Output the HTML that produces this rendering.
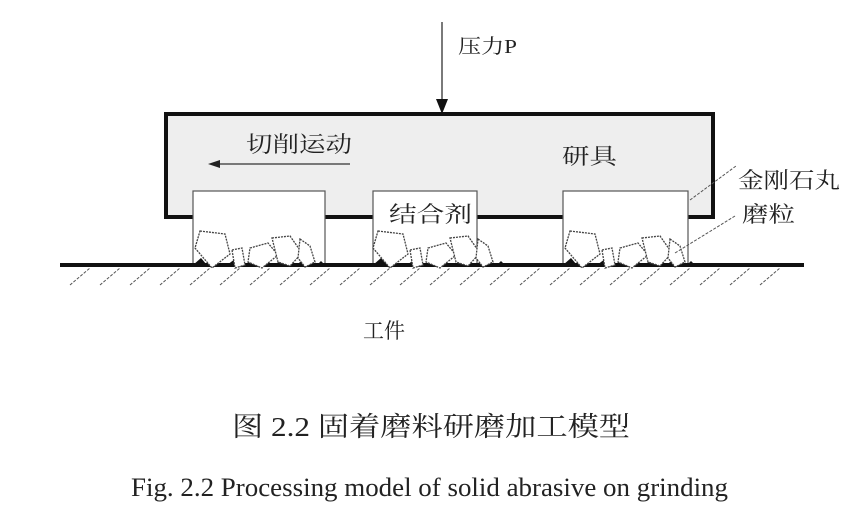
<!DOCTYPE html>
<html><head><meta charset="utf-8"><style>
body{margin:0;background:#fff}
svg text{font-family:"Liberation Serif","Noto Serif CJK SC",serif;fill:#222}
</style></head><body>
<svg width="844" height="516" viewBox="0 0 844 516" xmlns="http://www.w3.org/2000/svg">
<defs>
<g id="parts" fill="#fff" stroke="#444" stroke-width="1.3" stroke-dasharray="2 1">
<polygon points="10,231 35,234 40,254 22,268 5,248"/>
<polygon points="42,250 52,248 55,265 45,268"/>
<polygon points="60,248 78,243 88,255 72,268 58,262"/>
<polygon points="82,238 100,236 112,253 100,266 88,262"/>
<polygon points="110,239 120,246 125,262 115,267 108,258"/>
</g>
<g id="tri" fill="#111">
<polygon points="0,265 8,258 14,265"/><polygon points="34,265 42,259 48,265"/><polygon points="52,265 58,260 64,265"/><polygon points="82,265 90,258 98,265"/><polygon points="104,265 110,259 116,265"/><polygon points="124,265 128,261 132,265"/>
</g>
</defs>
<line x1="442" y1="22" x2="442" y2="100" stroke="#333" stroke-width="1.3"/>
<polygon points="436,99 448,99 442,114" fill="#111"/>
<text x="458" y="53" font-size="20" textLength="59" lengthAdjust="spacingAndGlyphs">压力P</text>
<rect x="166" y="114" width="547" height="103" fill="#eeeeee" stroke="#111" stroke-width="4"/>
<text x="246" y="152" font-size="22" textLength="106" lengthAdjust="spacingAndGlyphs">切削运动</text>
<line x1="218" y1="164" x2="350" y2="164" stroke="#333" stroke-width="1.3"/>
<polygon points="208,164 220,160 220,168" fill="#222"/>
<text x="562" y="164" font-size="22" textLength="55" lengthAdjust="spacingAndGlyphs">研具</text>
<rect x="193" y="191" width="132" height="74" fill="#fff" stroke="#555" stroke-width="1.2"/>
<rect x="373" y="191" width="104" height="74" fill="#fff" stroke="#555" stroke-width="1.2"/>
<rect x="563" y="191" width="125" height="74" fill="#fff" stroke="#555" stroke-width="1.2"/>
<text x="389" y="222" font-size="22" textLength="83" lengthAdjust="spacingAndGlyphs">结合剂</text>
<use href="#tri" x="193"/><use href="#tri" x="373"/><use href="#tri" x="563"/>
<line x1="60" y1="265" x2="804" y2="265" stroke="#111" stroke-width="4"/>
<use href="#parts" x="190"/><use href="#parts" x="368"/><use href="#parts" x="560"/>
<g stroke="#555" stroke-width="1" stroke-dasharray="3 1.5">
<path d="M70 285 L90 268 M100 285 L120 268 M130 285 L150 268 M160 285 L180 268 M190 285 L210 268 M220 285 L240 268 M250 285 L270 268 M280 285 L300 268 M310 285 L330 268 M340 285 L360 268 M370 285 L390 268 M400 285 L420 268 M430 285 L450 268 M460 285 L480 268 M490 285 L510 268 M520 285 L540 268 M550 285 L570 268 M580 285 L600 268 M610 285 L630 268 M640 285 L660 268 M670 285 L690 268 M700 285 L720 268 M730 285 L750 268 M760 285 L780 268"/>
<line x1="690" y1="200" x2="736" y2="166"/>
<line x1="675" y1="253" x2="735" y2="216"/>
</g>
<text x="738" y="188" font-size="22" textLength="102" lengthAdjust="spacingAndGlyphs">金刚石丸</text>
<text x="742" y="222" font-size="22" textLength="53" lengthAdjust="spacingAndGlyphs">磨粒</text>
<text x="363" y="338" font-size="21" textLength="42" lengthAdjust="spacingAndGlyphs">工件</text>
<text x="232" y="436" font-size="27" textLength="398" lengthAdjust="spacingAndGlyphs">图 2.2  固着磨料研磨加工模型</text>
<text x="131" y="496" font-size="26" textLength="597" lengthAdjust="spacingAndGlyphs">Fig. 2.2 Processing model of solid abrasive on grinding</text>
</svg>
</body></html>
